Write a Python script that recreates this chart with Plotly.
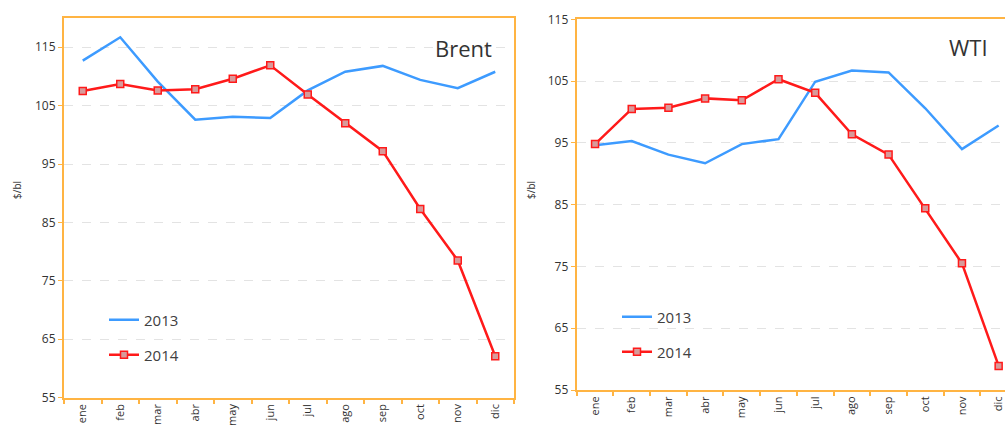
import plotly.graph_objects as go

months = ["ene", "feb", "mar", "abr", "may", "jun", "jul", "ago", "sep", "oct", "nov", "dic"]
brent_2013 = [112.7, 116.7, 109.1, 102.6, 103.1, 102.9, 107.6, 110.8, 111.8, 109.4, 108.0, 110.8]
brent_2014 = [107.5, 108.7, 107.6, 107.8, 109.6, 111.9, 106.9, 102.0, 97.2, 87.3, 78.5, 62.1]
wti_2013 = [94.6, 95.3, 93.1, 91.7, 94.8, 95.6, 104.9, 106.7, 106.4, 100.6, 94.0, 97.8]
wti_2014 = [94.8, 100.5, 100.7, 102.2, 101.9, 105.3, 103.1, 96.4, 93.1, 84.4, 75.5, 58.9]
y_ticks = [55, 65, 75, 85, 95, 105, 115]

W, H = 1005, 425
BLUE = "#3D9BFF"
RED = "#FF1A1A"
ORANGE = "#FFB443"
FONT = "Open Sans"
TXT = "#333333"

fig = go.Figure()

def px_x(v):
    return v / W

def px_y(v):
    return (H - v) / H

marker_2014 = dict(symbol="square", size=7, color="#D89A9A", line=dict(color=RED, width=1.5))

fig.add_trace(go.Scatter(x=months, y=brent_2013, mode="lines", name="2013",
                         line=dict(color=BLUE, width=2.5), xaxis="x", yaxis="y", legend="legend"))
fig.add_trace(go.Scatter(x=months, y=brent_2014, mode="lines+markers", name="2014",
                         line=dict(color=RED, width=2.5), marker=marker_2014,
                         xaxis="x", yaxis="y", legend="legend2"))
fig.add_trace(go.Scatter(x=months, y=wti_2013, mode="lines", name="2013",
                         line=dict(color=BLUE, width=2.5), xaxis="x2", yaxis="y2", legend="legend3"))
fig.add_trace(go.Scatter(x=months, y=wti_2014, mode="lines+markers", name="2014",
                         line=dict(color=RED, width=2.5), marker=marker_2014,
                         xaxis="x2", yaxis="y2", legend="legend4"))

xcommon = dict(type="category", showgrid=False, showline=True, linecolor=ORANGE, linewidth=2,
               ticks="outside", ticklen=4, tickcolor=ORANGE, tickwidth=1.5, tickson="boundaries",
               tickangle=-90, tickfont=dict(family=FONT, size=11, color=TXT), zeroline=False,
               fixedrange=True, automargin=False)
ycommon = dict(showgrid=True, gridcolor="#E3E3E3", griddash="dash", gridwidth=1,
               showline=True, linecolor=ORANGE, linewidth=2, ticks="outside", ticklen=4,
               tickcolor=ORANGE, tickvals=y_ticks, tickfont=dict(family=FONT, size=12, color=TXT),
               zeroline=False, fixedrange=True, automargin=False)

wti_left, wti_right_full = 576.7, 1017.0
cut = 11.5 - (wti_right_full - W) / ((wti_right_full - wti_left) / 12)

legend_style = dict(xanchor="left", yanchor="middle", bgcolor="rgba(0,0,0,0)",
                    font=dict(family=FONT, size=15, color="#404040"), itemwidth=30)

fig.update_layout(
    width=W, height=H,
    margin=dict(l=0, r=0, t=0, b=0),
    paper_bgcolor="white", plot_bgcolor="white",
    xaxis=dict(**xcommon, domain=[px_x(64), px_x(514)], anchor="y", mirror=True, range=[-0.5, 11.5]),
    yaxis=dict(**ycommon, domain=[px_y(397.7), px_y(18)], anchor="x", mirror=True, range=[55, 120]),
    xaxis2=dict(**xcommon, domain=[px_x(wti_left), 1.0], anchor="y2", mirror=True, range=[-0.5, cut]),
    yaxis2=dict(**ycommon, domain=[px_y(390), px_y(19.3)], anchor="x2", mirror=False, range=[55, 115]),
    showlegend=True,
    legend=dict(x=px_x(104), y=px_y(320), **legend_style),
    legend2=dict(x=px_x(104), y=px_y(355), **legend_style),
    legend3=dict(x=px_x(617), y=px_y(317), **legend_style),
    legend4=dict(x=px_x(617), y=px_y(352), **legend_style),
    annotations=[
        dict(text="Brent", xref="paper", yref="paper", x=px_x(494), y=px_y(48), xanchor="right",
             yanchor="middle", showarrow=False, font=dict(family=FONT, size=22, color="#333333")),
        dict(text="WTI", xref="paper", yref="paper", x=px_x(990), y=px_y(47), xanchor="right",
             yanchor="middle", showarrow=False, font=dict(family=FONT, size=22, color="#333333")),
        dict(text="$/bl", xref="paper", yref="paper", x=px_x(17), y=px_y(190), textangle=-90,
             xanchor="center", yanchor="middle", showarrow=False, font=dict(family=FONT, size=10, color=TXT)),
        dict(text="$/bl", xref="paper", yref="paper", x=px_x(531), y=px_y(190), textangle=-90,
             xanchor="center", yanchor="middle", showarrow=False, font=dict(family=FONT, size=10, color=TXT)),
    ],
)

fig.write_html("out.html", config={"displayModeBar": False},
               post_script="document.body.style.margin='0px';document.body.style.overflow='hidden';")
